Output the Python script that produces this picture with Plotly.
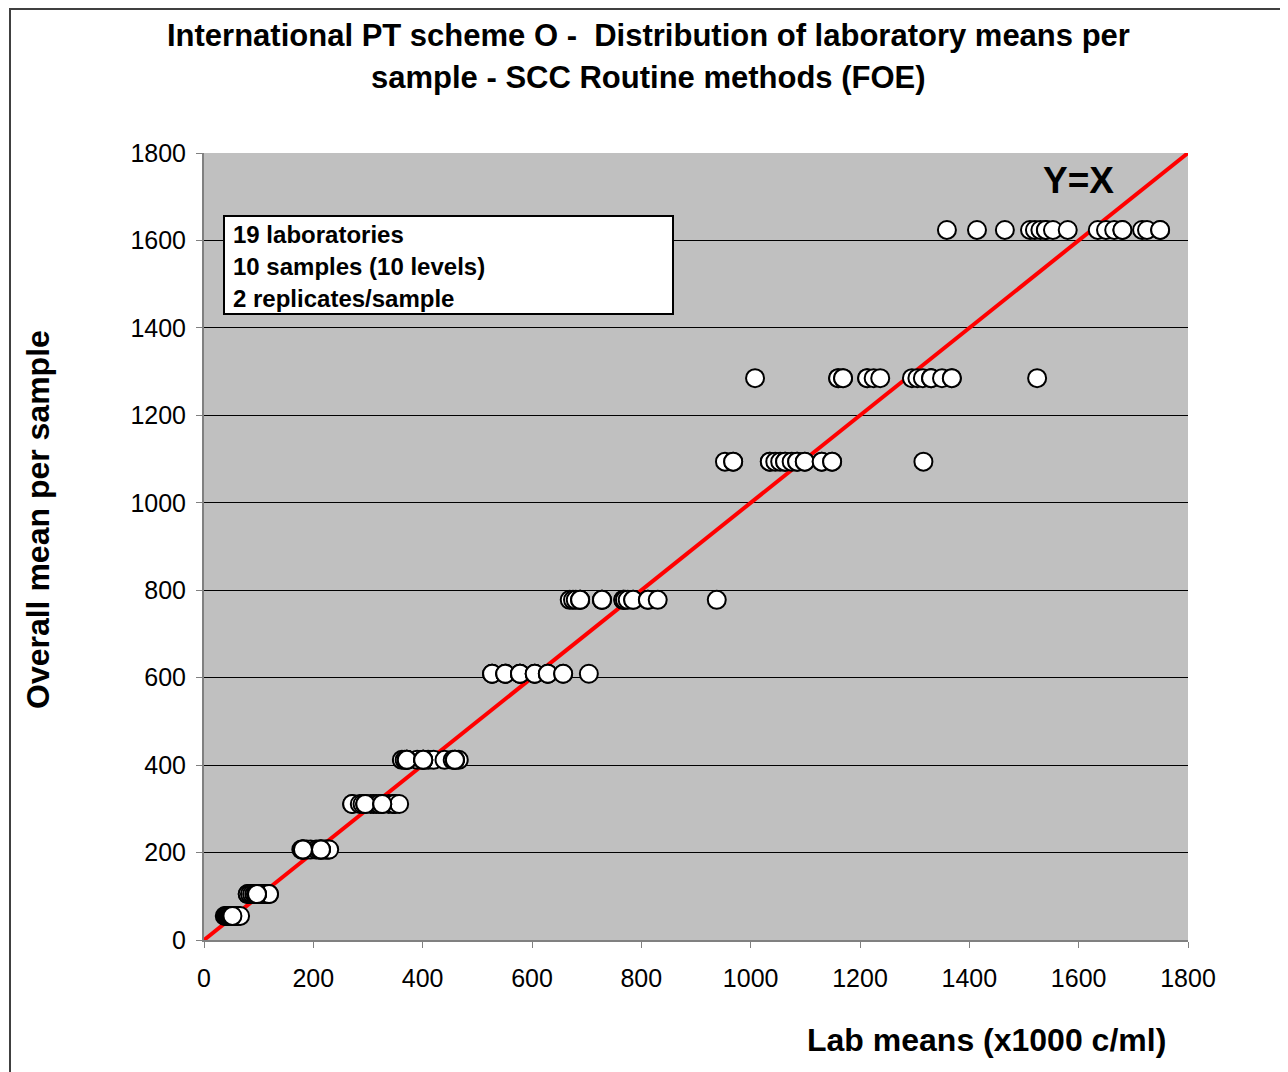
import plotly.graph_objects as go

# Overall mean per sample (10 levels)
levels = [55, 105, 207, 311, 412, 609, 778, 1094, 1285, 1624]

# Lab means for each level (19 laboratories)
lab_55 = [38, 40, 42, 44, 45, 46, 47, 48, 49, 50, 53, 54, 55, 57, 59, 62, 66, 51, 52]
lab_105 = [80, 80, 84, 88, 92, 95, 100, 100, 104, 108, 112, 112, 116, 119, 119, 97, 97, 97, 97]
lab_207 = [178, 180, 184, 188, 195, 205, 210, 213, 218, 222, 225, 228, 229, 181, 181, 181, 214, 214, 214]
lab_311 = [271, 271, 285, 290, 305, 310, 315, 320, 338, 345, 349, 349, 357, 295, 295, 295, 326, 326, 326]
lab_412 = [362, 367, 390, 410, 420, 440, 466, 455, 371, 371, 371, 371, 401, 401, 401, 401, 459, 459, 459]
lab_609 = [527, 527, 527, 551, 551, 551, 578, 578, 578, 578, 605, 605, 605, 629, 629, 629, 657, 657, 704]
lab_778 = [669, 675, 680, 688, 688, 688, 728, 728, 728, 767, 767, 770, 775, 785, 785, 812, 812, 830, 938]
lab_1094 = [953, 968, 968, 1035, 1035, 1045, 1054, 1063, 1063, 1075, 1085, 1085, 1099, 1099, 1130, 1130, 1149, 1149, 1316]
lab_1285 = [1008, 1160, 1160, 1169, 1169, 1213, 1213, 1225, 1237, 1295, 1305, 1315, 1330, 1330, 1330, 1350, 1368, 1368, 1524]
lab_1624 = [1359, 1414, 1465, 1511, 1520, 1530, 1540, 1540, 1553, 1580, 1635, 1650, 1665, 1680, 1680, 1716, 1725, 1749, 1749]

lab_means = [lab_55, lab_105, lab_207, lab_311, lab_412, lab_609, lab_778, lab_1094, lab_1285, lab_1624]

identity = [0, 1800]
tick_vals = [0, 200, 400, 600, 800, 1000, 1200, 1400, 1600, 1800]

xs, ys = [], []
for lvl, vals in zip(levels, lab_means):
    for v in vals:
        xs.append(v)
        ys.append(lvl)

FONT = "Liberation Sans, Arial, sans-serif"

fig = go.Figure()
fig.add_trace(go.Scatter(x=identity, y=identity, mode="lines",
                         line=dict(color="#FF0000", width=4), hoverinfo="skip"))
fig.add_trace(go.Scatter(x=xs, y=ys, mode="markers",
                         marker=dict(symbol="circle", size=18, color="white",
                                     line=dict(color="black", width=2))))

fig.update_layout(
    width=1288, height=1072,
    margin=dict(l=196, r=108, t=145, b=140),
    paper_bgcolor="white", plot_bgcolor="#C0C0C0",
    showlegend=False,
    font=dict(family=FONT, color="black", size=25),
)
fig.update_xaxes(range=[0, 1800], tickvals=tick_vals, ticks="outside", ticklen=6,
                 tickcolor="#808080", showline=True, linecolor="#808080", linewidth=2,
                 showgrid=False, zeroline=False, ticklabelstandoff=9,
                 tickfont=dict(size=25, family=FONT))
fig.update_yaxes(range=[0, 1800], tickvals=tick_vals, ticks="outside", ticklen=6,
                 tickcolor="#808080", showline=True, linecolor="#808080", linewidth=2,
                 showgrid=True, gridcolor="black", gridwidth=1, zeroline=False,
                 ticklabelstandoff=5, tickfont=dict(size=25, family=FONT))

def px_x(p):
    return (p - 204) / 984.0

def px_y(p):
    return (940 - p) / 787.0

shapes = [
    dict(type="rect", xref="paper", yref="paper", x0=px_x(10), x1=px_x(1286),
         y0=px_y(1078), y1=px_y(9), line=dict(color="#404040", width=2)),
    dict(type="rect", xref="paper", yref="paper", x0=px_x(224), x1=px_x(673),
         y0=px_y(314), y1=px_y(216), line=dict(color="black", width=2),
         fillcolor="white", layer="above"),
]

annotations = [
    dict(text="<b>International PT scheme O -  Distribution of laboratory means per</b>",
         x=px_x(648), y=px_y(36), xanchor="center", yanchor="middle",
         font=dict(size=31)),
    dict(text="<b>sample - SCC Routine methods (FOE)</b>",
         x=px_x(648), y=px_y(78), xanchor="center", yanchor="middle",
         font=dict(size=31)),
    dict(text="<b>Lab means (x1000 c/ml)</b>", x=px_x(1168), y=px_y(1040),
         xanchor="right", yanchor="middle", font=dict(size=32)),
    dict(text="<b>Overall mean per sample</b>", x=px_x(38), y=px_y(520),
         xanchor="center", yanchor="middle", textangle=-90, font=dict(size=32)),
    dict(text="<b>Y=X</b>", x=px_x(1078), y=px_y(180), xanchor="center",
         yanchor="middle", font=dict(size=37)),
    dict(text="<b>19 laboratories</b>", x=px_x(231), y=px_y(234), xanchor="left",
         yanchor="middle", font=dict(size=24)),
    dict(text="<b>10 samples (10 levels)</b>", x=px_x(231), y=px_y(266), xanchor="left",
         yanchor="middle", font=dict(size=24)),
    dict(text="<b>2 replicates/sample</b>", x=px_x(231), y=px_y(298), xanchor="left",
         yanchor="middle", font=dict(size=24)),
]
for a in annotations:
    a.update(xref="paper", yref="paper", showarrow=False)
    a.setdefault("font", {})
    a["font"].setdefault("family", FONT)
    a["font"].setdefault("color", "black")

fig.update_layout(shapes=shapes, annotations=annotations)
fig.write_html("out.html")
